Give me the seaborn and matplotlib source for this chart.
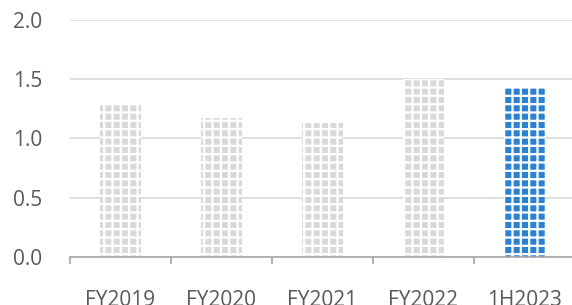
import matplotlib
matplotlib.use("Agg")
import matplotlib.pyplot as plt
import seaborn as sns
import pandas as pd
from matplotlib.ticker import FixedLocator

periods = ["FY2019", "FY2020", "FY2021", "FY2022", "1H2023"]
values = [1.28, 1.17, 1.13, 1.50, 1.43]
bar_colors = ["#d9d9d9", "#d9d9d9", "#d9d9d9", "#d9d9d9", "#2b83cf"]
y_ticks = [0.0, 0.5, 1.0, 1.5, 2.0]

sns.set_style("white")
plt.rcParams["font.family"] = ["Open Sans", "DejaVu Sans"]
plt.rcParams["hatch.linewidth"] = 1.6

df = pd.DataFrame({"period": periods, "value": values})

fig = plt.figure(figsize=(5.72, 3.05), dpi=100)
ax = fig.add_axes([70 / 572, 48.3 / 305, 505 / 572, 236.7 / 305])

sns.barplot(data=df, x="period", y="value", hue="period", palette=bar_colors,
            width=0.4, legend=False, ax=ax, saturation=1)

for p in ax.patches:
    p.set_hatch("++")
    p.set_edgecolor("white")
    p.set_linewidth(0)

ax.set_ylim(0, 2.0)
ax.set_xlim(-0.5, len(periods) - 0.5)
ax.set_yticks(y_ticks)
ax.set_yticklabels([f"{t:.1f}" for t in y_ticks])
ax.yaxis.grid(True, color="#d9d9d9", linewidth=1.2)
ax.set_axisbelow(True)

for s in ["top", "right", "left"]:
    ax.spines[s].set_visible(False)
ax.spines["bottom"].set_color("#a6a6a6")
ax.spines["bottom"].set_linewidth(1.2)

ax.xaxis.set_minor_locator(FixedLocator([i - 0.5 for i in range(len(periods) + 1)]))
ax.tick_params(axis="x", which="minor", bottom=True, length=5, width=1.2,
               color="#a6a6a6", direction="out")
ax.tick_params(axis="x", which="major", length=0, pad=24, labelsize=15, labelcolor="#595959")
ax.tick_params(axis="y", length=0, pad=20, labelsize=15, labelcolor="#595959")

ax.set_xlabel("")
ax.set_ylabel("")

fig.savefig("out.png", dpi=100)
